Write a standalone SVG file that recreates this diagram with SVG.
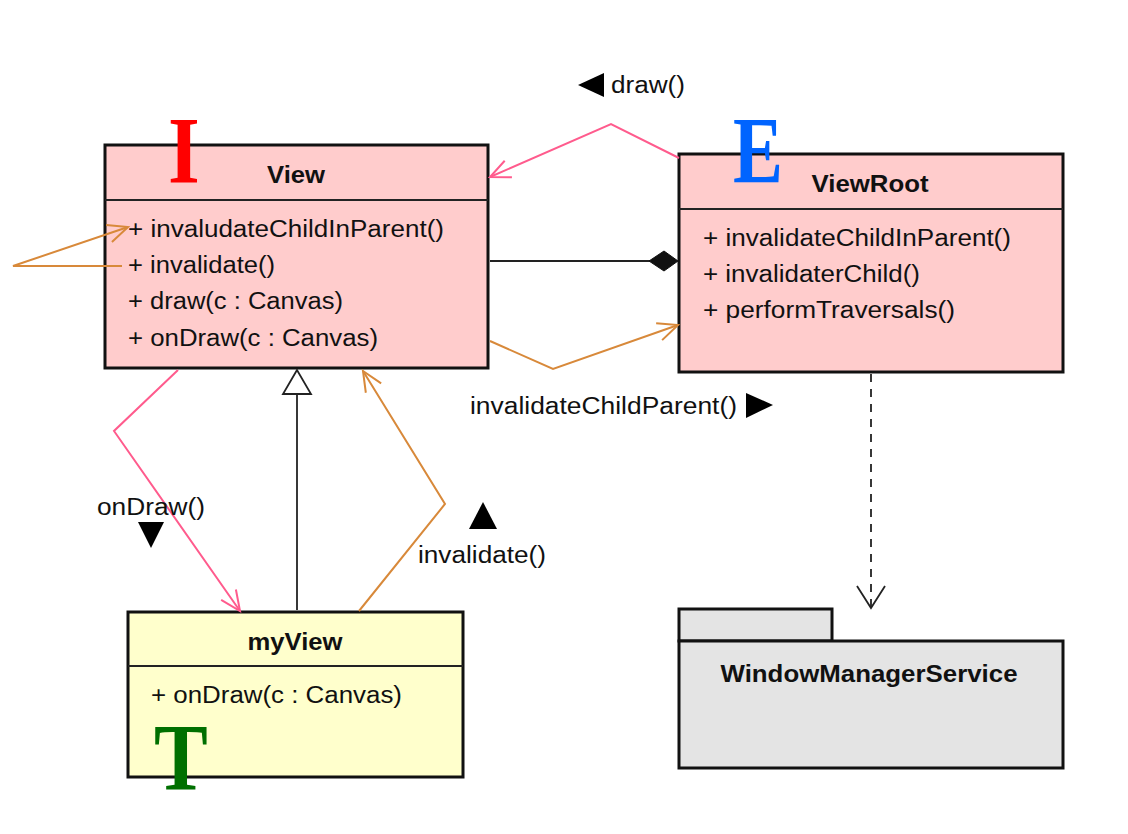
<svg xmlns="http://www.w3.org/2000/svg" width="1128" height="834" viewBox="0 0 1128 834">
<style>
.box{stroke:#111;stroke-width:3}
.sep{stroke:#222;stroke-width:2}
.t{font-family:"Liberation Sans",Arial,sans-serif;font-size:23px;fill:#111}
.b{font-family:"Liberation Sans",Arial,sans-serif;font-size:24px;font-weight:bold;fill:#111;text-anchor:middle}
.big{font-family:"Liberation Serif","Times New Roman",serif;font-size:96px;font-weight:bold}
.pink{fill:none;stroke:#ff5b8d;stroke-width:2}
.orange{fill:none;stroke:#d8893a;stroke-width:2}
.blk{fill:none;stroke:#222;stroke-width:1.8}
</style>
<defs>
<marker id="aPink" markerUnits="userSpaceOnUse" markerWidth="24" markerHeight="22" refX="21" refY="10" orient="auto" overflow="visible"><path d="M1,1 L21,10 L1,19" fill="none" stroke="#ff5b8d" stroke-width="2"/></marker>
<marker id="aOrange" markerUnits="userSpaceOnUse" markerWidth="24" markerHeight="22" refX="21" refY="10" orient="auto" overflow="visible"><path d="M1,1 L21,10 L1,19" fill="none" stroke="#d8893a" stroke-width="2"/></marker>
<marker id="aBlk" markerUnits="userSpaceOnUse" markerWidth="26" markerHeight="30" refX="23" refY="14" orient="auto" overflow="visible"><path d="M1,0 L23,14 L1,28" fill="none" stroke="#222" stroke-width="1.8"/></marker>
</defs>
<rect width="1128" height="834" fill="#ffffff"/>

<g id="View">
  <rect x="105" y="145" width="383" height="223" fill="#ffcccc" class="box"/>
  <line x1="105" y1="200" x2="488" y2="200" class="sep"/>
  <text class="b" x="296" y="183" textLength="58" lengthAdjust="spacingAndGlyphs">View</text>
  <text class="t" x="128" y="237" textLength="316" lengthAdjust="spacingAndGlyphs">+ invaludateChildInParent()</text>
  <text class="t" x="128" y="273" textLength="147" lengthAdjust="spacingAndGlyphs">+ invalidate()</text>
  <text class="t" x="128" y="309" textLength="215" lengthAdjust="spacingAndGlyphs">+ draw(c : Canvas)</text>
  <text class="t" x="128" y="346" textLength="250" lengthAdjust="spacingAndGlyphs">+ onDraw(c : Canvas)</text>
  <text class="big" x="184" y="183" fill="#ff0000" text-anchor="middle" transform="translate(184 0) scale(0.85 1) translate(-184 0)">I</text>
</g>

<g id="ViewRoot">
  <rect x="679" y="154" width="384" height="218" fill="#ffcccc" class="box"/>
  <line x1="679" y1="209" x2="1063" y2="209" class="sep"/>
  <text class="b" x="870" y="192" textLength="117" lengthAdjust="spacingAndGlyphs">ViewRoot</text>
  <text class="t" x="703" y="246" textLength="308" lengthAdjust="spacingAndGlyphs">+ invalidateChildInParent()</text>
  <text class="t" x="703" y="282" textLength="217" lengthAdjust="spacingAndGlyphs">+ invalidaterChild()</text>
  <text class="t" x="703" y="318" textLength="252" lengthAdjust="spacingAndGlyphs">+ performTraversals()</text>
  <text class="big" x="758" y="183" fill="#0064ff" text-anchor="middle" transform="translate(758 0) scale(0.78 1) translate(-758 0)">E</text>
</g>

<g id="myView">
  <rect x="128" y="612" width="335" height="165" fill="#ffffcc" class="box"/>
  <line x1="128" y1="666" x2="463" y2="666" class="sep"/>
  <text class="b" x="295" y="650" textLength="95" lengthAdjust="spacingAndGlyphs">myView</text>
  <text class="t" x="151" y="703" textLength="251" lengthAdjust="spacingAndGlyphs">+ onDraw(c : Canvas)</text>
  <text class="big" x="181" y="790" fill="#007000" text-anchor="middle" transform="translate(181 0) scale(0.84 1) translate(-181 0)">T</text>
</g>

<g id="WindowManagerService">
  <rect x="679" y="609" width="153" height="32" fill="#e4e4e4" class="box"/>
  <rect x="679" y="641" width="384" height="127" fill="#e4e4e4" class="box"/>
  <text class="b" x="869" y="682" textLength="297" lengthAdjust="spacingAndGlyphs">WindowManagerService</text>
</g>

<g id="connectors">
  <!-- composition View - ViewRoot -->
  <line x1="490" y1="261" x2="650" y2="261" class="blk"/>
  <polygon points="678,261 664,251 649,261 664,271" fill="#111" stroke="#111" stroke-width="1"/>
  <!-- draw() pink -->
  <polyline points="679,158 611,124 490,177" class="pink" marker-end="url(#aPink)"/>
  <!-- invalidateChildInParent orange -->
  <polyline points="490,341 553,369 678,325" class="orange" marker-end="url(#aOrange)"/>
  <!-- self loop orange -->
  <polyline points="122,266 13,266 128,227" class="orange" marker-end="url(#aOrange)"/>
  <!-- onDraw pink -->
  <polyline points="178,370 114,431 240,611" class="pink" marker-end="url(#aPink)"/>
  <!-- generalization -->
  <line x1="297" y1="610" x2="297" y2="394" class="blk"/>
  <polygon points="297,370 283,394 311,394" fill="#ffffff" stroke="#222" stroke-width="1.8"/>
  <!-- invalidate orange -->
  <polyline points="359,611 445,504 363,371" class="orange" marker-end="url(#aOrange)"/>
  <!-- dependency dashed -->
  <line x1="871" y1="374" x2="871" y2="608" class="blk" stroke-dasharray="8,7" marker-end="url(#aBlk)"/>
</g>

<g id="labels">
  <polygon points="578,85 604,73 604,97" fill="#000"/>
  <text class="t" x="611" y="93" textLength="74" lengthAdjust="spacingAndGlyphs">draw()</text>
  <text class="t" x="470" y="414" textLength="267" lengthAdjust="spacingAndGlyphs">invalidateChildParent()</text>
  <polygon points="773,405 746,393 746,418" fill="#000"/>
  <text class="t" x="97" y="515" textLength="108" lengthAdjust="spacingAndGlyphs">onDraw()</text>
  <polygon points="151,548 138,522 164,522" fill="#000"/>
  <polygon points="483,502 469,529 497,529" fill="#000"/>
  <text class="t" x="418" y="563" textLength="128" lengthAdjust="spacingAndGlyphs">invalidate()</text>
</g>
</svg>
